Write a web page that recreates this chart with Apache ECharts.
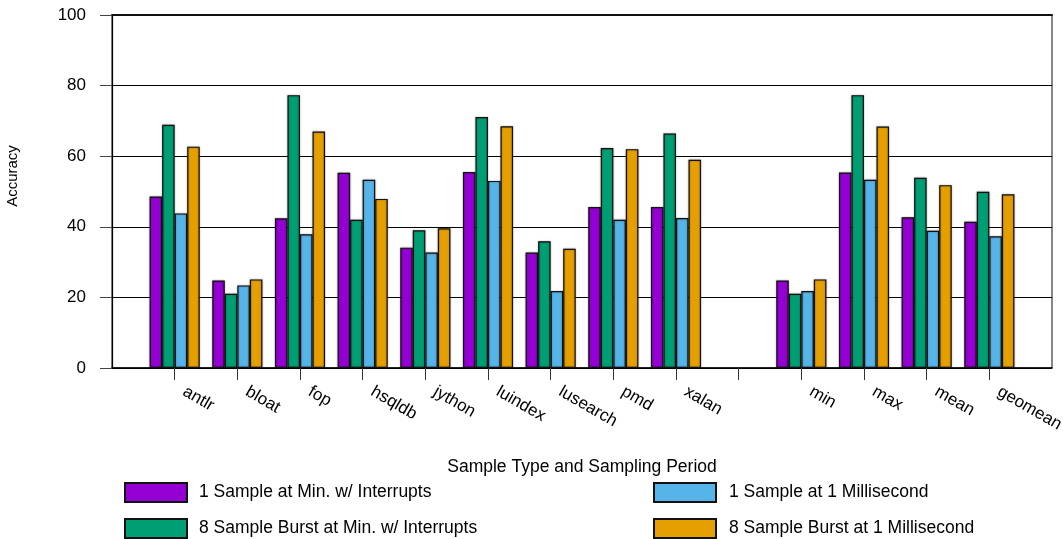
<!DOCTYPE html>
<html>
<head>
<meta charset="utf-8">
<script src="https://cdn.jsdelivr.net/npm/echarts@6/dist/echarts.min.js"></script>
<style>
html,body{margin:0;padding:0;background:#fff;}
#chart{width:1063px;height:539px;}
</style>
</head>
<body>
<div id="chart"></div>
<script>
// Categories (' ' = empty gap category between xalan and min)
const categories = ['antlr', 'bloat', 'fop', 'hsqldb', 'jython', 'luindex', 'lusearch', 'pmd', 'xalan', ' ', 'min', 'max', 'mean', 'geomean'];
const seriesNames = [
  '1 Sample at Min. w/ Interrupts',
  '8 Sample Burst at Min. w/ Interrupts',
  '1 Sample at 1 Millisecond',
  '8 Sample Burst at 1 Millisecond'
];
const oneSampleMinInterrupts = [48.6, 24.8, 42.4, 55.3, 34.1, 55.5, 32.7, 45.6, 45.6, null, 24.8, 55.4, 42.7, 41.4];
const burstMinInterrupts     = [68.9, 21.0, 77.3, 42.0, 39.0, 71.1, 35.9, 62.3, 66.4, null, 21.0, 77.3, 53.9, 49.9];
const oneSample1ms           = [43.8, 23.4, 37.9, 53.3, 32.7, 53.0, 21.8, 42.0, 42.5, null, 21.8, 53.3, 38.9, 37.3];
const burst1ms               = [62.7, 25.1, 67.0, 47.9, 39.6, 68.5, 33.8, 62.0, 59.0, null, 25.1, 68.4, 51.8, 49.2];
const yTicks = [0, 20, 40, 60, 80, 100];
const legendTitle = 'Sample Type and Sampling Period';
const yAxisTitle = 'Accuracy';

const colors = ['#9400D3', '#009E73', '#56B4E9', '#E69F00'];
const values = [oneSampleMinInterrupts, burstMinInterrupts, oneSample1ms, burst1ms];

// pad with empty slots at both ends so groups sit on the boundary ticks
const axisCats = [''].concat(categories, ['']);
const pad = arr => [null].concat(arr, [null]);
const FONT = 'Liberation Sans, Arial, Helvetica, sans-serif';

// legend slots: [left, top] for each series
const legendSlots = [[124, 482], [124, 518], [653, 482], [653, 518]];

const chart = echarts.init(document.getElementById('chart'), null, {renderer: 'canvas'});
const option = {
  animation: false,
  textStyle: {fontFamily: FONT},
  grid: {left: 112, right: 11, top: 15, bottom: 171, show: true, borderColor: '#111', borderWidth: 1, containLabel: false, outerBoundsMode: 'none'},
  xAxis: [{
    type: 'category',
    data: axisCats,
    boundaryGap: false,
    axisLine: {show: true, lineStyle: {color: '#000', width: 1.5}},
    axisTick: {show: true, length: 12, lineStyle: {color: '#333', width: 1}, interval: (i) => i > 0 && i < axisCats.length - 1},
    axisLabel: {interval: 0, rotate: -30, fontSize: 17, color: '#000', fontFamily: FONT, margin: 17, padding: [0, 0, 0, 11]},
    splitLine: {show: false}
  }, {
    type: 'category',
    data: axisCats,
    position: 'top',
    boundaryGap: false,
    axisLine: {show: true, lineStyle: {color: '#111', width: 2}},
    axisTick: {show: false},
    axisLabel: {show: false},
    splitLine: {show: false}
  }],
  yAxis: {
    type: 'value',
    min: yTicks[0],
    max: yTicks[yTicks.length - 1],
    interval: yTicks[1] - yTicks[0],
    axisLine: {show: true, lineStyle: {color: '#000', width: 1.2}},
    axisTick: {show: true, length: 12, lineStyle: {color: '#444'}},
    axisLabel: {fontSize: 17, color: '#000', fontFamily: FONT, margin: 26},
    splitLine: {show: true, lineStyle: {color: '#000', width: 1}}
  },
  legend: seriesNames.map((name, k) => ({
    data: [name],
    orient: 'horizontal',
    left: legendSlots[k][0], top: legendSlots[k][1],
    padding: 0,
    itemWidth: 62, itemHeight: 19,
    icon: 'rect',
    selectedMode: false,
    textStyle: {fontSize: 17.5, color: '#000', fontFamily: FONT, padding: [0, 0, 0, k < 2 ? 7 : 8]}
  })),
  graphic: [{
    type: 'text',
    x: 582, y: 467,
    style: {text: legendTitle, font: '17.5px ' + FONT, fill: '#000', textAlign: 'center', textVerticalAlign: 'middle'},
    silent: true
  }, {
    type: 'text',
    x: 13, y: 176,
    rotation: Math.PI / 2,
    style: {text: yAxisTitle, font: '15px ' + FONT, fill: '#000', textAlign: 'center', textVerticalAlign: 'middle'},
    silent: true
  }],
  series: seriesNames.map((name, k) => ({
    name: name,
    type: 'bar',
    data: pad(values[k]),
    barGap: '0%',
    barCategoryGap: '20%',
    itemStyle: {color: colors[k], borderColor: '#111', borderWidth: 1.2, shadowColor: 'rgba(0,0,0,0.35)', shadowBlur: 2}
  }))
};
chart.setOption(option);
</script>
</body>
</html>
